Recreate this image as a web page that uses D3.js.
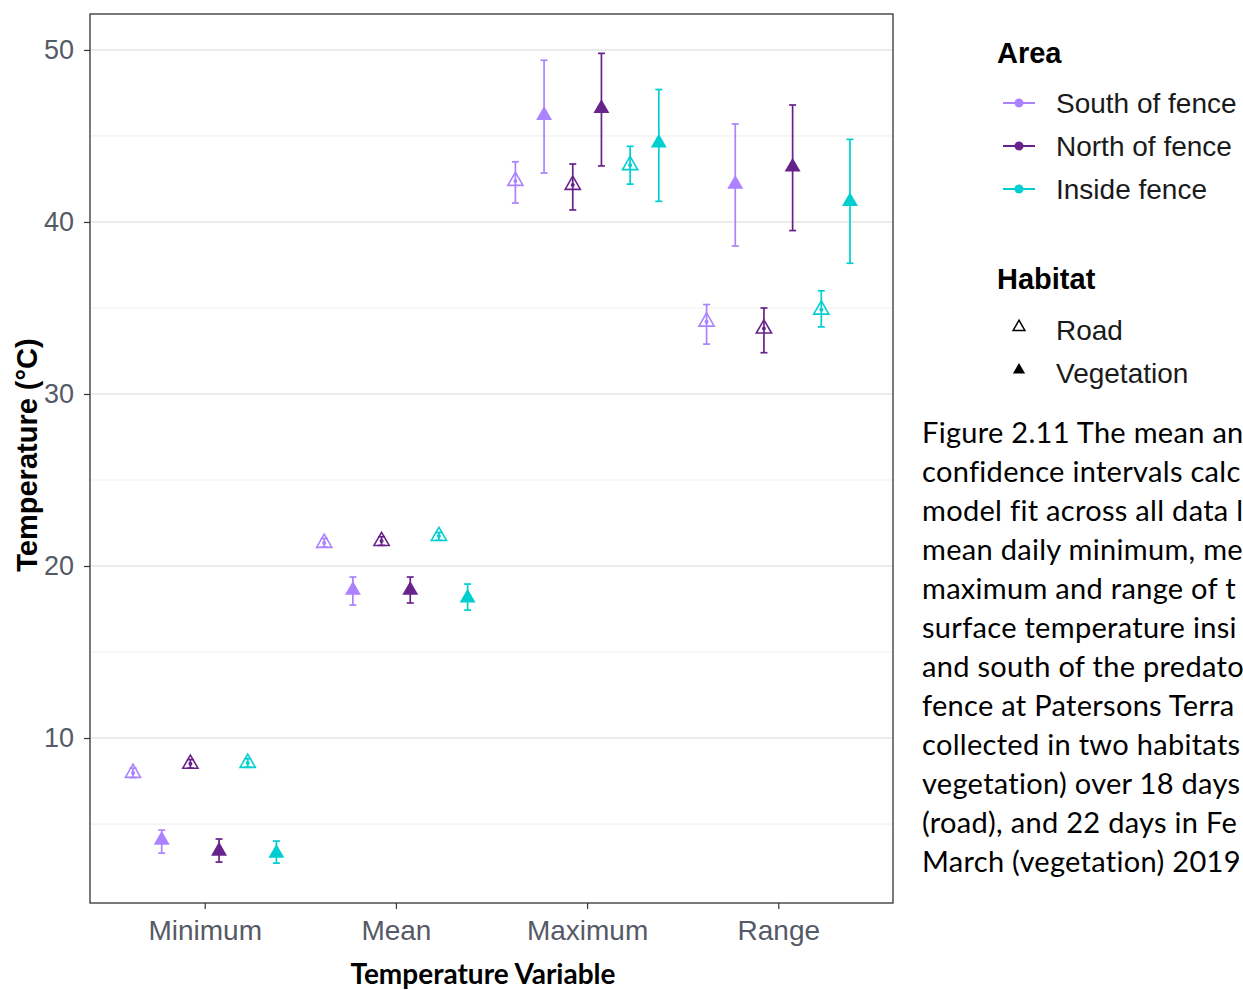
<!DOCTYPE html>
<html><head><meta charset="utf-8">
<script src="https://cdn.jsdelivr.net/npm/d3@7"></script>
<style>body{margin:0;background:#fff;overflow:hidden}</style>
</head><body><svg id="c" width="1243" height="990"></svg>
<script>
const variables = ["Minimum","Mean","Maximum","Range"];
const areas = ["South of fence","North of fence","Inside fence"];
const habitats = ["Road","Vegetation"];
const areaColors = ["#AB82FF","#68228B","#00CED1"];
const yTicks = [10,20,30,40,50];
const yMinorTicks = [5,15,25,35,45];
// group order within each variable: South Road, South Veg, North Road, North Veg, Inside Road, Inside Veg
const groupArea = [0,0,1,1,2,2];
const groupHabitat = [0,1,0,1,0,1];
const meanValues = [
  [7.97, 4.07, 8.5, 3.43, 8.55, 3.31],
  [21.34, 18.6, 21.45, 18.6, 21.74, 18.14],
  [42.38, 46.2, 42.15, 46.6, 43.3, 44.6],
  [34.2, 42.2, 33.8, 43.2, 34.9, 41.2]
];
const lowerCI = [
  [7.7, 3.31, 8.25, 2.79, 8.3, 2.73],
  [21.1, 17.73, 21.2, 17.85, 21.5, 17.44],
  [41.1, 42.85, 40.7, 43.26, 42.2, 41.2],
  [32.9, 38.6, 32.4, 39.5, 33.9, 37.6]
];
const upperCI = [
  [8.25, 4.65, 8.75, 4.13, 8.8, 4.01],
  [21.6, 19.36, 21.7, 19.36, 21.95, 18.95],
  [43.5, 49.4, 43.37, 49.8, 44.4, 47.7],
  [35.2, 45.7, 35.0, 46.8, 36.0, 44.8]
];
// caption as visible in the figure (cut by the right edge)
const captionLines = [
  "Figure 2.11 The mean an",
  "confidence intervals calc",
  "model fit across all data l",
  "mean daily minimum, me",
  "maximum and range of t",
  "surface temperature insi",
  "and south of the predato",
  "fence at Patersons Terra",
  "collected in two habitats",
  "vegetation) over 18 days",
  "(road), and 22 days in Fe",
  "March (vegetation) 2019"
];

const svg = d3.select("#c");
const P = {l:90, r:893, t:14, b:903};
const x = d3.scaleLinear().domain([0.4, 4.6]).range([P.l, P.r]);
const y = d3.scaleLinear().domain([0.41, 52.09]).range([P.b, P.t]);
const dodge = 0.15;

// grid
const g = svg.append("g");
g.selectAll(".minor").data(yMinorTicks).join("line")
  .attr("x1",P.l).attr("x2",P.r).attr("y1",d=>y(d)).attr("y2",d=>y(d))
  .attr("stroke","#f0f0f0").attr("stroke-width",1.2);
g.selectAll(".major").data(yTicks).join("line")
  .attr("x1",P.l).attr("x2",P.r).attr("y1",d=>y(d)).attr("y2",d=>y(d))
  .attr("stroke","#ebebeb").attr("stroke-width",2);

// axes
const yAxis = d3.axisLeft(y).tickValues(yTicks).tickSize(6).tickPadding(10);
const ya = svg.append("g").attr("transform",`translate(${P.l},0)`).call(yAxis);
ya.select(".domain").remove();
ya.selectAll("line").attr("stroke","#333").attr("stroke-width",1.2);
ya.selectAll("text").attr("font-family","Liberation Sans, Arial").attr("font-size",27).attr("fill","#555a66");

const xAxis = d3.axisBottom(x).tickValues([1,2,3,4]).tickFormat((d)=>variables[d-1]).tickSize(6).tickPadding(11);
const xa = svg.append("g").attr("transform",`translate(0,${P.b})`).call(xAxis);
xa.select(".domain").remove();
xa.selectAll("line").attr("stroke","#333").attr("stroke-width",1.2);
xa.selectAll("text").attr("font-family","Liberation Sans, Arial").attr("font-size",28).attr("fill","#555a66");

svg.append("rect").attr("x",P.l).attr("y",P.t).attr("width",P.r-P.l).attr("height",P.b-P.t)
  .attr("fill","none").attr("stroke","#333").attr("stroke-width",1.3);

// titles
svg.append("text").attr("transform","translate(37,455) rotate(-90)").attr("text-anchor","middle")
  .attr("font-family","Liberation Sans, Arial").attr("font-weight","bold").attr("font-size",29)
  .text("Temperature (°C)");
svg.append("text").attr("x",483).attr("y",984).attr("text-anchor","middle")
  .attr("font-family","Lato").attr("font-weight","bold").attr("font-size",28)
  .text("Temperature Variable");

// data
const rows = [];
variables.forEach((v,i)=>{
  for(let k=0;k<6;k++){
    rows.push({xv: i+1+(k-2.5)*dodge, m: meanValues[i][k], lo: lowerCI[i][k], hi: upperCI[i][k],
      color: areaColors[groupArea[k]], hab: groupHabitat[k]});
  }
});
const tri = d3.symbol().type(d3.symbolTriangle).size(110);
const triRoad = d3.symbol().type(d3.symbolTriangle).size(100);
const pts = svg.append("g");
rows.forEach(d=>{
  const cx = x(d.xv);
  if(d.hab===1){
    pts.append("path").attr("d",tri()).attr("transform",`translate(${cx},${y(d.m)})`).attr("fill",d.color);
  } else {
    pts.append("path").attr("d",triRoad()).attr("transform",`translate(${cx},${y(d.m)})`)
      .attr("fill","none").attr("stroke",d.color).attr("stroke-width",1.6);
  }
  const eb = pts.append("g").attr("stroke",d.color).attr("stroke-width",1.7);
  eb.append("line").attr("x1",cx).attr("x2",cx).attr("y1",y(d.lo)).attr("y2",y(d.hi));
  eb.append("line").attr("x1",cx-3.5).attr("x2",cx+3.5).attr("y1",y(d.lo)).attr("y2",y(d.lo));
  eb.append("line").attr("x1",cx-3.5).attr("x2",cx+3.5).attr("y1",y(d.hi)).attr("y2",y(d.hi));
  if(d.hab===0){
    pts.append("circle").attr("cx",cx).attr("cy",y(d.m)).attr("r",2).attr("fill",d.color);
  }
});

// legend
const L = svg.append("g").attr("font-family","Liberation Sans, Arial");
L.append("text").attr("x",997).attr("y",63).attr("font-weight","bold").attr("font-size",29).text("Area");
areas.forEach((a,i)=>{
  const yy = 103 + i*43;
  L.append("line").attr("x1",1003).attr("x2",1035).attr("y1",yy).attr("y2",yy).attr("stroke",areaColors[i]).attr("stroke-width",2);
  L.append("circle").attr("cx",1019).attr("cy",yy).attr("r",4.5).attr("fill",areaColors[i]);
  L.append("text").attr("x",1056).attr("y",yy+10).attr("font-size",28).attr("fill","#1a1a1a").text(a);
});
L.append("text").attr("x",997).attr("y",289).attr("font-weight","bold").attr("font-size",29).text("Habitat");
habitats.forEach((h,i)=>{
  const yy = 327 + i*43;
  const p = L.append("path").attr("transform",`translate(1019,${yy})`);
  if(i===0) p.attr("d",d3.symbol().type(d3.symbolTriangle).size(60)()).attr("fill","none").attr("stroke","#000").attr("stroke-width",1.5);
  else p.attr("d",d3.symbol().type(d3.symbolTriangle).size(65)()).attr("fill","#000");
  L.append("text").attr("x",1056).attr("y",yy+13).attr("font-size",28).attr("fill","#1a1a1a").text(h);
});

// caption
const C = svg.append("g").attr("font-family","Lato").attr("font-size",29).attr("letter-spacing",0.3).attr("fill","#000");
captionLines.forEach((t,i)=>{
  C.append("text").attr("x",922).attr("y",443+i*39).text(t);
});
</script></body></html>
